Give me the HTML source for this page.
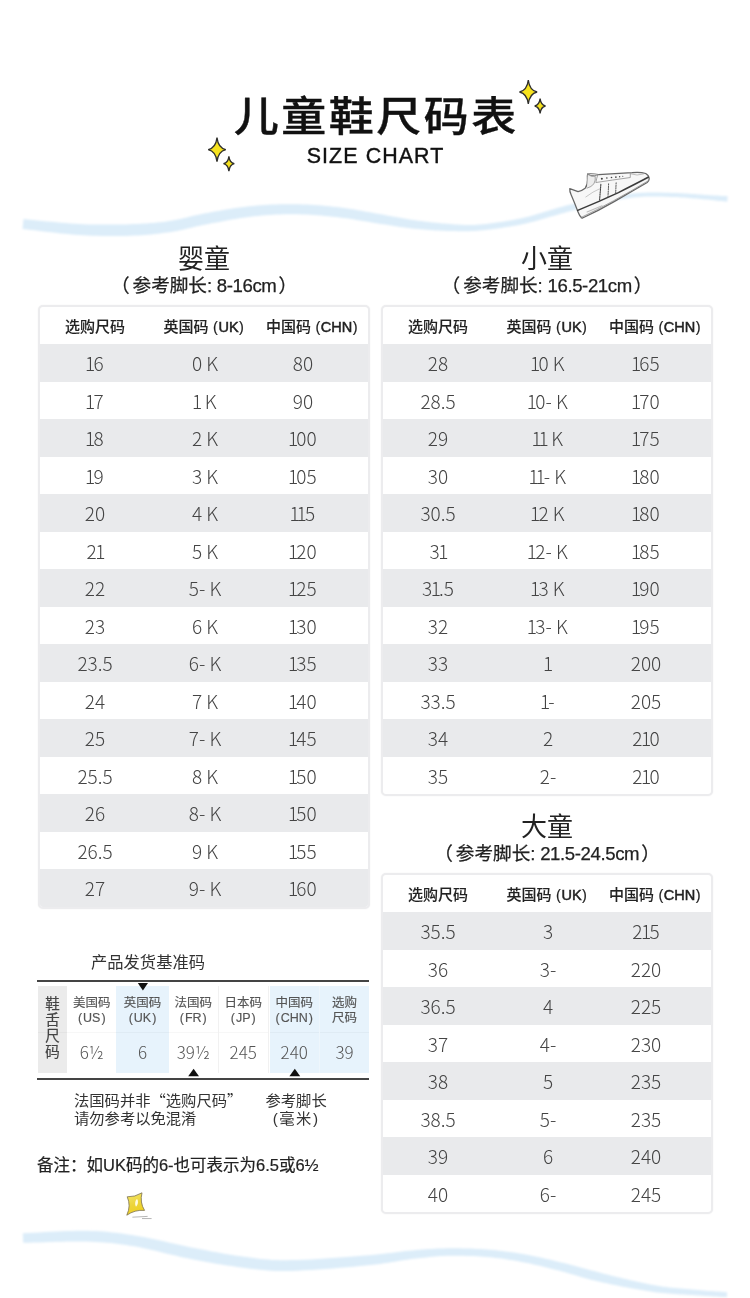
<!DOCTYPE html>
<html lang="zh-CN">
<head>
<meta charset="utf-8">
<title>儿童鞋尺码表</title>
<style>
*{margin:0;padding:0;box-sizing:border-box;}
html,body{width:750px;height:1298px;background:#fff;overflow:hidden;}
body{position:relative;font-family:"Liberation Sans","Noto Sans CJK SC",sans-serif;color:#333;}
.abs{position:absolute;}
.title{left:0;width:750px;top:84px;text-align:center;font-family:"Noto Sans CJK SC",sans-serif;font-weight:500;font-size:45px;line-height:60px;color:#111;-webkit-text-stroke:0.4px #111;letter-spacing:2.5px;text-indent:2.5px;transform:scaleY(0.9);transform-origin:50% 50%;}
.sub{left:0;width:750px;top:142.5px;text-align:center;font-family:"Liberation Sans",sans-serif;font-size:21.4px;line-height:26px;color:#111;letter-spacing:1.1px;text-indent:1.1px;-webkit-text-stroke:0.4px #111;}
.h2{text-align:center;font-family:"Noto Sans CJK SC",sans-serif;font-size:26px;line-height:30px;color:#222;}
.h3{text-align:center;font-family:"Liberation Sans","Noto Sans CJK SC",sans-serif;font-size:18.6px;line-height:24px;color:#222;margin-top:1px;-webkit-text-stroke:0.25px #222;}
.lp{margin-right:3px;}
.ln{letter-spacing:-0.4px;margin-right:2px;}
.tbl{width:331.5px;border:2px solid #ececee;border-radius:5px;overflow:hidden;background:#fff;box-shadow:0 0 1.5px rgba(0,0,0,0.07);}
.hd{height:37.5px;position:relative;font-family:"Noto Sans CJK SC",sans-serif;font-weight:500;font-size:15px;color:#222;-webkit-text-stroke:0.1px #222;}
.hd b{font-family:"Liberation Sans",sans-serif;font-weight:400;font-size:14.5px;margin-left:4px;-webkit-text-stroke:0.5px #222;}
.hd b i{font-style:normal;font-weight:400;margin:0 0.5px;-webkit-text-stroke:0.2px #222;}
.row{height:37.5px;position:relative;font-family:"Noto Sans CJK SC",sans-serif;font-weight:300;font-size:19px;color:#444;}
.row.g{background:#e9eaec;}
.row i.o{font-style:normal;margin:0 -1.8px 0 -1.4px;}
.c{position:absolute;top:0;height:100%;line-height:37.5px;text-align:center;white-space:nowrap;}
.c1{left:0px;width:110px;}
.c2{left:110px;width:110px;}
.c3{left:208px;width:110px;}
.hd .c1{left:0;width:110px;}
.hd .c2{left:109px;width:110px;}
.hd .c3{left:217px;width:110px;}
.dg{width:331px;height:87.5px;}
.dc{position:absolute;top:0;height:87.5px;width:50.5px;}
.dc.lab{left:0;width:29px;background:#ebebeb;font-family:"Noto Sans CJK SC",sans-serif;font-size:14.5px;line-height:16px;color:#444;text-align:center;padding-top:9px;-webkit-text-stroke:0.2px #444;}
.dc.w{background:#fff;border-right:1px solid #f1f1f1;}
.dc.b{background:#e7f3fc;}
.dc .t{position:absolute;left:0;width:100%;top:10px;text-align:center;font-family:"Liberation Sans","Noto Sans CJK SC",sans-serif;font-size:12.5px;line-height:15.5px;color:#555;white-space:nowrap;-webkit-text-stroke:0.15px #555;}
.dc .v{position:absolute;left:0;width:100%;top:56px;text-align:center;font-family:"Noto Sans CJK SC",sans-serif;font-weight:300;font-size:17px;line-height:20px;color:#555;white-space:nowrap;}
.dc::after{content:"";position:absolute;left:0;right:0;top:46px;height:1px;background:rgba(0,0,0,0.03);}
.p{margin:0 1px;}
.note{font-family:"Noto Sans CJK SC",sans-serif;font-size:15.3px;line-height:18px;color:#333;white-space:nowrap;}
</style>
</head>
<body>
<!-- waves -->
<svg class="abs" style="left:0;top:0" width="750" height="1298" viewBox="0 0 750 1298">
  <defs><filter id="bl" x="-5%" y="-50%" width="110%" height="200%"><feGaussianBlur stdDeviation="0.9"/></filter></defs>
  <g fill="#dcedf9" filter="url(#bl)">
  <path d="M22.5,229.0 L27.2,229.5 L31.8,230.0 L36.6,230.6 L41.3,231.2 L46.0,231.7 L50.7,232.3 L55.5,232.8 L60.2,233.4 L64.9,233.8 L69.5,234.3 L74.1,234.7 L78.7,235.0 L83.2,235.3 L87.7,235.5 L92.2,235.7 L96.7,235.8 L101.1,235.9 L105.5,236.0 L109.8,236.0 L114.0,236.0 L118.2,236.0 L122.3,235.9 L126.3,235.9 L130.2,235.7 L134.0,235.6 L137.7,235.4 L141.2,235.2 L144.7,235.0 L148.1,234.7 L151.5,234.4 L154.8,234.0 L158.1,233.7 L161.3,233.3 L164.5,232.8 L167.6,232.4 L170.8,231.9 L174.0,231.4 L177.0,230.9 L180.0,230.3 L182.9,229.7 L185.7,229.0 L188.5,228.3 L191.3,227.7 L194.1,227.0 L196.9,226.3 L199.8,225.7 L202.9,225.0 L206.0,224.4 L209.4,223.8 L212.9,223.1 L216.6,222.4 L220.3,221.7 L224.0,220.9 L227.8,220.2 L231.6,219.5 L235.5,218.9 L239.3,218.3 L243.1,217.7 L246.9,217.2 L250.6,216.7 L254.3,216.3 L258.0,215.9 L261.7,215.6 L265.4,215.3 L269.1,215.0 L272.8,214.8 L276.5,214.6 L280.2,214.4 L283.9,214.3 L287.6,214.2 L291.2,214.2 L294.9,214.2 L298.6,214.3 L302.4,214.4 L306.1,214.5 L309.9,214.7 L313.7,215.0 L317.4,215.3 L321.2,215.6 L324.9,215.9 L328.6,216.3 L332.3,216.7 L335.9,217.1 L339.4,217.5 L342.9,217.9 L346.3,218.3 L349.7,218.8 L353.1,219.3 L356.4,219.9 L359.8,220.4 L363.1,221.0 L366.4,221.6 L369.6,222.1 L372.9,222.7 L376.1,223.2 L379.2,223.7 L382.3,224.2 L385.4,224.6 L388.3,225.1 L391.3,225.5 L394.2,226.0 L397.1,226.4 L400.0,226.9 L402.8,227.3 L405.7,227.7 L408.6,228.0 L411.5,228.4 L414.5,228.7 L417.5,229.0 L420.4,229.3 L423.4,229.5 L426.5,229.8 L429.5,230.0 L432.5,230.2 L435.5,230.4 L438.4,230.5 L441.4,230.7 L444.2,230.8 L447.1,230.9 L449.8,231.0 L452.5,231.1 L455.0,231.1 L457.4,231.2 L459.8,231.3 L462.1,231.3 L464.5,231.3 L466.8,231.3 L469.3,231.2 L471.8,231.1 L474.5,231.0 L477.3,230.8 L480.3,230.5 L483.4,230.2 L486.8,229.8 L490.3,229.4 L493.9,228.9 L497.6,228.4 L501.3,227.9 L505.1,227.3 L508.9,226.7 L512.7,226.0 L516.4,225.4 L520.1,224.7 L523.6,223.9 L527.1,223.2 L530.6,222.3 L534.1,221.4 L537.5,220.5 L540.9,219.6 L544.3,218.6 L547.6,217.6 L550.9,216.6 L554.2,215.7 L557.5,214.7 L560.7,213.8 L563.9,212.9 L567.0,212.1 L570.2,211.2 L573.3,210.3 L576.3,209.5 L579.3,208.6 L582.3,207.8 L585.3,206.9 L588.3,206.1 L591.3,205.3 L594.4,204.6 L597.4,203.9 L600.5,203.2 L603.7,202.5 L606.9,201.9 L610.1,201.3 L613.4,200.6 L616.7,200.0 L620.0,199.5 L623.2,199.0 L626.5,198.5 L629.7,198.0 L632.9,197.6 L636.1,197.3 L639.1,197.0 L642.2,196.8 L645.2,196.6 L648.2,196.5 L651.2,196.5 L654.2,196.4 L657.1,196.5 L660.0,196.5 L662.9,196.6 L665.7,196.7 L668.5,196.8 L671.2,196.9 L673.9,197.0 L676.6,197.1 L679.1,197.2 L681.7,197.4 L684.1,197.6 L686.6,197.8 L689.0,198.0 L691.4,198.2 L693.7,198.4 L696.0,198.6 L698.3,198.8 L700.6,199.0 L702.8,199.2 L705.0,199.4 L707.2,199.6 L709.3,199.8 L711.3,200.1 L713.3,200.3 L715.3,200.5 L717.3,200.7 L719.3,200.9 L721.3,201.1 L723.2,201.3 L725.2,201.5 L727.3,201.7 L727.7,196.3 L725.7,196.1 L723.7,196.0 L721.7,195.9 L719.7,195.8 L717.7,195.6 L715.7,195.5 L713.7,195.4 L711.7,195.3 L709.6,195.2 L707.5,195.0 L705.4,194.9 L703.2,194.8 L700.9,194.6 L698.7,194.5 L696.4,194.3 L694.1,194.1 L691.7,194.0 L689.3,193.8 L686.9,193.6 L684.4,193.5 L681.9,193.3 L679.3,193.2 L676.7,193.1 L674.1,193.0 L671.4,192.9 L668.6,192.8 L665.8,192.8 L663.0,192.7 L660.1,192.6 L657.1,192.6 L654.2,192.6 L651.2,192.6 L648.1,192.6 L645.1,192.7 L642.0,192.8 L638.9,193.0 L635.7,193.2 L632.5,193.5 L629.2,193.8 L626.0,194.1 L622.6,194.5 L619.3,194.8 L615.9,195.3 L612.6,195.7 L609.3,196.2 L606.0,196.7 L602.7,197.2 L599.5,197.8 L596.3,198.4 L593.1,199.0 L590.0,199.7 L586.9,200.4 L583.8,201.1 L580.8,201.8 L577.7,202.6 L574.7,203.4 L571.6,204.2 L568.5,205.0 L565.3,205.8 L562.1,206.7 L558.9,207.5 L555.6,208.5 L552.4,209.5 L549.1,210.5 L545.8,211.5 L542.5,212.6 L539.2,213.6 L535.8,214.6 L532.5,215.5 L529.1,216.4 L525.8,217.3 L522.4,218.1 L518.9,218.8 L515.3,219.5 L511.6,220.2 L507.9,220.8 L504.2,221.5 L500.4,222.0 L496.7,222.6 L493.1,223.1 L489.5,223.5 L486.1,223.9 L482.8,224.2 L479.7,224.5 L476.8,224.7 L474.1,224.9 L471.6,224.9 L469.2,225.0 L466.8,225.0 L464.5,224.9 L462.3,224.8 L460.0,224.7 L457.7,224.5 L455.3,224.4 L452.8,224.2 L450.2,224.0 L447.4,223.8 L444.7,223.6 L441.8,223.4 L439.0,223.1 L436.1,222.8 L433.1,222.5 L430.2,222.2 L427.2,221.8 L424.3,221.4 L421.3,221.1 L418.4,220.7 L415.5,220.3 L412.7,219.9 L409.8,219.4 L407.0,219.0 L404.2,218.5 L401.4,218.0 L398.6,217.5 L395.7,217.0 L392.8,216.5 L389.9,215.9 L386.9,215.4 L383.9,214.8 L380.8,214.3 L377.7,213.8 L374.5,213.2 L371.3,212.6 L368.1,212.0 L364.8,211.4 L361.5,210.8 L358.1,210.2 L354.7,209.6 L351.2,209.0 L347.7,208.5 L344.2,208.0 L340.6,207.5 L337.0,207.1 L333.3,206.7 L329.6,206.3 L325.8,206.0 L322.0,205.6 L318.2,205.3 L314.4,205.0 L310.5,204.8 L306.6,204.6 L302.7,204.4 L298.9,204.3 L295.1,204.2 L291.3,204.2 L287.4,204.2 L283.6,204.2 L279.8,204.3 L276.0,204.4 L272.2,204.6 L268.4,204.8 L264.6,205.0 L260.8,205.3 L257.0,205.6 L253.2,205.9 L249.4,206.3 L245.6,206.7 L241.7,207.2 L237.7,207.8 L233.8,208.3 L229.8,209.0 L225.9,209.6 L222.1,210.3 L218.3,211.0 L214.5,211.6 L210.9,212.3 L207.4,213.0 L204.0,213.6 L200.6,214.2 L197.5,214.9 L194.4,215.6 L191.5,216.3 L188.7,217.0 L185.9,217.7 L183.2,218.3 L180.5,218.9 L177.7,219.5 L175.0,220.1 L172.1,220.6 L169.2,221.1 L166.1,221.5 L163.0,221.9 L160.0,222.2 L156.8,222.6 L153.7,222.9 L150.5,223.1 L147.3,223.4 L143.9,223.6 L140.5,223.8 L137.1,224.0 L133.5,224.1 L129.8,224.3 L126.0,224.4 L122.1,224.5 L118.1,224.5 L114.0,224.6 L109.8,224.6 L105.5,224.6 L101.2,224.6 L96.9,224.6 L92.5,224.5 L88.1,224.4 L83.7,224.2 L79.3,224.0 L74.9,223.8 L70.4,223.5 L65.8,223.1 L61.2,222.7 L56.6,222.3 L51.9,221.8 L47.2,221.4 L42.4,220.9 L37.7,220.4 L32.9,219.9 L28.2,219.5 L23.5,219.0 Z"/>
  <path d="M23.2,1242.8 L28.6,1242.7 L34.0,1242.5 L39.6,1242.4 L45.1,1242.2 L50.7,1242.0 L56.2,1241.8 L61.6,1241.7 L67.0,1241.6 L72.2,1241.5 L77.3,1241.5 L82.2,1241.5 L86.9,1241.6 L91.3,1241.8 L95.6,1242.0 L99.6,1242.2 L103.5,1242.5 L107.3,1242.8 L111.0,1243.1 L114.7,1243.5 L118.4,1244.0 L122.1,1244.5 L126.0,1245.0 L130.0,1245.7 L134.1,1246.3 L138.4,1247.1 L142.8,1248.0 L147.3,1248.9 L151.9,1250.0 L156.5,1251.1 L161.2,1252.2 L165.9,1253.4 L170.6,1254.5 L175.3,1255.6 L179.9,1256.7 L184.4,1257.7 L188.9,1258.6 L193.1,1259.5 L197.3,1260.3 L201.4,1261.1 L205.5,1261.8 L209.5,1262.6 L213.4,1263.3 L217.4,1263.9 L221.3,1264.6 L225.3,1265.2 L229.3,1265.8 L233.3,1266.3 L237.3,1266.9 L241.2,1267.4 L244.9,1267.9 L248.5,1268.4 L252.1,1268.9 L255.8,1269.3 L259.5,1269.8 L263.3,1270.1 L267.3,1270.5 L271.5,1270.7 L276.0,1270.9 L280.8,1271.0 L286.0,1271.0 L291.7,1270.9 L297.9,1270.7 L304.6,1270.3 L311.5,1269.9 L318.6,1269.5 L325.9,1269.0 L333.1,1268.4 L340.2,1267.8 L347.1,1267.3 L353.7,1266.7 L359.8,1266.1 L365.4,1265.6 L370.6,1265.0 L375.5,1264.5 L380.0,1263.9 L384.3,1263.3 L388.4,1262.7 L392.3,1262.0 L396.0,1261.4 L399.6,1260.8 L403.1,1260.3 L406.6,1259.7 L410.0,1259.3 L413.4,1258.8 L416.9,1258.4 L420.2,1258.0 L423.3,1257.7 L426.4,1257.4 L429.4,1257.1 L432.3,1256.8 L435.2,1256.5 L438.1,1256.3 L441.0,1256.1 L443.9,1256.0 L446.9,1255.8 L450.1,1255.7 L453.3,1255.7 L456.5,1255.7 L459.9,1255.7 L463.2,1255.8 L466.6,1255.9 L470.0,1256.0 L473.4,1256.1 L476.7,1256.3 L480.1,1256.5 L483.3,1256.7 L486.5,1257.0 L489.7,1257.2 L492.7,1257.5 L495.7,1257.9 L498.7,1258.2 L501.6,1258.6 L504.4,1259.0 L507.3,1259.4 L510.1,1259.9 L512.9,1260.3 L515.7,1260.8 L518.5,1261.3 L521.4,1261.9 L524.3,1262.4 L527.1,1263.0 L530.0,1263.6 L532.9,1264.2 L535.9,1264.9 L538.8,1265.6 L541.7,1266.3 L544.6,1267.0 L547.5,1267.7 L550.4,1268.4 L553.3,1269.2 L556.1,1269.9 L559.0,1270.6 L561.8,1271.4 L564.5,1272.1 L567.3,1272.9 L570.0,1273.7 L572.8,1274.5 L575.5,1275.3 L578.2,1276.1 L580.9,1276.9 L583.7,1277.7 L586.4,1278.4 L589.1,1279.2 L591.9,1279.9 L594.6,1280.5 L597.3,1281.2 L599.9,1281.8 L602.6,1282.4 L605.2,1283.0 L607.9,1283.6 L610.5,1284.2 L613.2,1284.7 L615.9,1285.3 L618.6,1285.8 L621.4,1286.4 L624.2,1286.9 L627.0,1287.4 L629.9,1288.0 L632.8,1288.5 L635.7,1289.1 L638.7,1289.6 L641.6,1290.1 L644.6,1290.6 L647.6,1291.1 L650.6,1291.5 L653.6,1292.0 L656.6,1292.4 L659.6,1292.7 L662.5,1293.1 L665.5,1293.3 L668.5,1293.6 L671.5,1293.8 L674.5,1294.0 L677.5,1294.2 L680.4,1294.4 L683.4,1294.6 L686.3,1294.7 L689.1,1294.9 L692.0,1295.1 L694.8,1295.2 L697.6,1295.4 L700.3,1295.6 L703.0,1295.8 L705.7,1295.9 L708.4,1296.1 L711.0,1296.3 L713.6,1296.4 L716.3,1296.6 L718.9,1296.7 L721.5,1296.9 L724.2,1297.0 L726.8,1297.2 L727.2,1292.2 L724.5,1292.0 L721.9,1291.8 L719.2,1291.6 L716.6,1291.4 L714.0,1291.2 L711.4,1291.0 L708.7,1290.9 L706.1,1290.7 L703.4,1290.4 L700.7,1290.2 L698.0,1290.0 L695.2,1289.8 L692.4,1289.5 L689.5,1289.3 L686.7,1289.0 L683.8,1288.8 L680.8,1288.6 L677.9,1288.3 L675.0,1288.0 L672.0,1287.7 L669.1,1287.4 L666.2,1287.1 L663.3,1286.7 L660.4,1286.3 L657.6,1285.8 L654.7,1285.3 L651.8,1284.8 L648.8,1284.2 L645.9,1283.6 L643.0,1283.0 L640.1,1282.3 L637.2,1281.7 L634.3,1281.0 L631.5,1280.4 L628.6,1279.7 L625.8,1279.1 L623.1,1278.5 L620.4,1277.8 L617.7,1277.2 L615.1,1276.5 L612.5,1275.9 L609.9,1275.2 L607.3,1274.5 L604.7,1273.9 L602.1,1273.2 L599.4,1272.5 L596.8,1271.8 L594.1,1271.1 L591.4,1270.4 L588.8,1269.7 L586.1,1269.0 L583.4,1268.3 L580.6,1267.5 L577.9,1266.8 L575.1,1266.0 L572.4,1265.3 L569.6,1264.5 L566.7,1263.8 L563.9,1263.1 L561.0,1262.4 L558.2,1261.7 L555.3,1261.0 L552.4,1260.3 L549.5,1259.6 L546.5,1258.9 L543.6,1258.2 L540.6,1257.6 L537.6,1256.9 L534.6,1256.3 L531.7,1255.7 L528.7,1255.1 L525.7,1254.6 L522.8,1254.1 L519.9,1253.6 L517.0,1253.1 L514.1,1252.6 L511.3,1252.2 L508.4,1251.8 L505.5,1251.4 L502.5,1251.0 L499.5,1250.7 L496.5,1250.3 L493.5,1250.0 L490.3,1249.8 L487.1,1249.5 L483.8,1249.3 L480.5,1249.1 L477.1,1248.9 L473.7,1248.7 L470.3,1248.6 L466.8,1248.5 L463.4,1248.4 L460.0,1248.3 L456.6,1248.3 L453.2,1248.2 L449.9,1248.3 L446.8,1248.3 L443.6,1248.4 L440.6,1248.5 L437.6,1248.6 L434.7,1248.7 L431.7,1248.9 L428.7,1249.1 L425.7,1249.3 L422.6,1249.5 L419.4,1249.8 L416.0,1250.1 L412.6,1250.4 L409.0,1250.7 L405.4,1251.1 L401.9,1251.5 L398.3,1251.9 L394.7,1252.4 L391.0,1252.9 L387.1,1253.3 L383.1,1253.8 L378.9,1254.3 L374.4,1254.8 L369.6,1255.2 L364.6,1255.6 L359.0,1256.1 L352.8,1256.5 L346.3,1257.0 L339.4,1257.5 L332.3,1258.0 L325.1,1258.5 L318.0,1259.0 L310.9,1259.4 L304.0,1259.7 L297.5,1260.0 L291.5,1260.1 L286.0,1260.2 L281.0,1260.2 L276.4,1260.1 L272.1,1259.9 L268.1,1259.6 L264.3,1259.3 L260.7,1258.9 L257.1,1258.5 L253.6,1258.0 L250.0,1257.5 L246.4,1257.0 L242.6,1256.5 L238.7,1255.9 L234.8,1255.4 L230.9,1254.8 L227.0,1254.2 L223.2,1253.5 L219.3,1252.8 L215.4,1252.1 L211.5,1251.4 L207.6,1250.6 L203.6,1249.8 L199.5,1249.0 L195.4,1248.2 L191.1,1247.4 L186.8,1246.5 L182.4,1245.5 L177.9,1244.5 L173.2,1243.5 L168.5,1242.4 L163.8,1241.3 L159.0,1240.3 L154.3,1239.2 L149.6,1238.2 L144.9,1237.3 L140.3,1236.4 L135.9,1235.7 L131.6,1235.0 L127.6,1234.4 L123.6,1233.8 L119.8,1233.3 L115.9,1232.8 L112.1,1232.4 L108.3,1232.0 L104.3,1231.6 L100.3,1231.3 L96.1,1231.1 L91.7,1230.9 L87.1,1230.8 L82.3,1230.7 L77.2,1230.8 L72.0,1230.9 L66.7,1231.1 L61.3,1231.3 L55.8,1231.6 L50.3,1231.8 L44.7,1232.1 L39.2,1232.4 L33.7,1232.7 L28.2,1233.0 L22.8,1233.2 Z"/>
  </g>
</svg>

<!-- stars, shoe, sticker -->
<svg class="abs" style="left:0;top:0" width="750" height="1298" viewBox="0 0 750 1298">
  <g fill="#f6e21e" stroke="#2e2e2e" stroke-width="1.3" stroke-linejoin="miter">
    <path d="M217,137.7 Q218.2,148.0 225.8,149.7 Q218.2,151.4 217,161.7 Q215.8,151.4 208.2,149.7 Q215.8,148.0 217,137.7 Z"/>
    <path d="M228.9,156.3 Q229.7,162.7 234.3,163.7 Q229.7,164.7 228.9,171.1 Q228.1,164.7 223.5,163.7 Q228.1,162.7 228.9,156.3 Z"/>
    <path d="M528.3,80.0 Q529.5,90.3 537.1,92 Q529.5,93.7 528.3,104.0 Q527.1,93.7 519.5,92 Q527.1,90.3 528.3,80.0 Z"/>
    <path d="M540.1,98.6 Q540.9,105.0 545.5,106 Q540.9,107.0 540.1,113.4 Q539.3,107.0 534.7,106 Q539.3,105.0 540.1,98.6 Z"/>
  </g>
  <!-- shoe -->
  <g transform="translate(562,165) scale(0.1253)" fill="none" stroke="#5a5a5a" stroke-width="9" stroke-linejoin="round" stroke-linecap="round">
    <path d="M62,188 Q95,200 128,212 Q160,205 185,185 Q205,160 203,120 Q200,90 205,72 Q250,70 292,76 Q420,66 560,60 Q630,54 668,68 Q696,85 696,110 Q693,130 680,140 Q560,210 420,290 Q290,365 160,425 Q140,410 128,375 Q100,300 72,235 Q60,210 62,188 Z" fill="#f7f7f7" stroke="#666" stroke-width="10"/>
    <path d="M125,362 Q300,290 450,220 Q590,150 688,98" stroke="#3a3a3a" stroke-width="12"/>
    <path d="M150,420 Q400,300 690,125" stroke="#888" stroke-width="6"/>
    <path d="M205,72 Q230,90 260,85 Q285,80 292,76" stroke="#777" stroke-width="7" fill="#e9e9e9"/>
    <path d="M205,75 Q240,100 265,90 Q270,120 255,150 Q235,175 200,185" stroke="#888" stroke-width="6" fill="#ececec"/>
    <path d="M285,80 Q275,110 270,140 Q400,120 545,100 L545,70" stroke="#888" stroke-width="6"/>
    <path d="M545,70 Q600,90 650,72" stroke="#999" stroke-width="5"/>
    <path d="M310,155 L300,280" stroke="#444" stroke-width="9" stroke-dasharray="10 9"/>
    <path d="M372,150 L367,255" stroke="#555" stroke-width="8" stroke-dasharray="10 9"/>
    <path d="M432,142 L428,235" stroke="#555" stroke-width="8" stroke-dasharray="10 9"/>
    <path d="M190,255 Q250,210 300,190" stroke="#aaa" stroke-width="5"/>
    <path d="M200,375 Q260,350 320,325" stroke="#bbb" stroke-width="8"/>
    <g fill="#444" stroke="none">
      <circle cx="318" cy="110" r="8"/><circle cx="358" cy="104" r="6.5"/><circle cx="395" cy="100" r="6.5"/><circle cx="430" cy="97" r="6.5"/><circle cx="460" cy="94" r="5.5"/><circle cx="485" cy="90" r="4.5"/>
    </g>
  </g>
  <!-- sticker -->
  <g transform="translate(110,1180) scale(0.08)">
    <defs><linearGradient id="sg" x1="0" y1="0" x2="0.3" y2="1"><stop offset="0" stop-color="#f4e66a"/><stop offset="0.6" stop-color="#ecd43a"/><stop offset="1" stop-color="#f0d020"/></linearGradient></defs>
    <path d="M215,210 Q310,215 400,160 Q370,280 432,380 Q310,370 210,440 Q265,320 215,210 Z" fill="url(#sg)" stroke="#7a7050" stroke-width="10" stroke-linejoin="round"/>
    <path d="M330,240 Q300,290 325,335 Q360,300 345,245 Z" fill="#fffbe0"/>
    <path d="M280,465 L470,455 M400,482 L520,482" stroke="#999" stroke-width="9"/>
  </g>
</svg>

<div class="abs title">儿童鞋尺码表</div>
<div class="abs sub">SIZE CHART</div>

<div class="abs h2" style="left:38px;width:332px;top:242px;">婴童</div>
<div class="abs h3" style="left:38px;width:332px;top:273px;"><span class="lp">（</span>参考脚长:<span class="ln"> 8-16cm</span>）</div>
<div class="abs h2" style="left:381px;width:332px;top:242px;">小童</div>
<div class="abs h3" style="left:381px;width:332px;top:273px;"><span class="lp">（</span>参考脚长:<span class="ln"> 16.5-21cm</span>）</div>
<div class="abs h2" style="left:381px;width:332px;top:810px;">大童</div>
<div class="abs h3" style="left:381px;width:332px;top:841px;"><span class="lp">（</span>参考脚长:<span class="ln"> 21.5-24.5cm</span>）</div>

<!-- DIAGRAM -->
<div class="abs" style="left:91px;top:950px;font-family:'Noto Sans CJK SC',sans-serif;font-size:16.3px;line-height:22px;color:#333;white-space:nowrap;">产品发货基准码</div>
<div class="abs" style="left:37px;top:980px;width:332px;height:2px;background:#444;"></div>
<div class="abs" style="left:37px;top:1078px;width:332px;height:2px;background:#444;"></div>
<div class="abs dg" style="left:38px;top:985.5px;">
  <div class="dc lab">鞋<br>舌<br>尺<br>码</div>
  <div class="dc w" style="left:29px;"><div class="t">美国码<br><span class="p">(</span>US<span class="p">)</span></div><div class="v">6½</div></div>
  <div class="dc b" style="left:78.3px;width:52.4px;"><div class="t">英国码<br><span class="p">(</span>UK<span class="p">)</span></div><div class="v">6</div></div>
  <div class="dc w" style="left:130.5px;"><div class="t">法国码<br><span class="p">(</span>FR<span class="p">)</span></div><div class="v">39½</div></div>
  <div class="dc w" style="left:180.5px;"><div class="t">日本码<br><span class="p">(</span>JP<span class="p">)</span></div><div class="v">245</div></div>
  <div class="dc b" style="left:231.6px;width:50.2px;border-right:1px solid #eef6fc;"><div class="t">中国码<br><span class="p">(</span>CHN<span class="p">)</span></div><div class="v">240</div></div>
  <div class="dc b" style="left:282px;width:49px;"><div class="t">选购<br>尺码</div><div class="v">39</div></div>
</div>
<svg class="abs" style="left:0;top:0;" width="750" height="1100" viewBox="0 0 750 1100">
  <path d="M137.8,983 L148,983 L142.9,990.5 Z" fill="#111"/>
  <path d="M188.2,1076.3 L199,1076.3 L193.6,1068.8 Z" fill="#111"/>
  <path d="M289.4,1076.3 L300.2,1076.3 L294.8,1068.8 Z" fill="#111"/>
</svg>
<div class="abs note" style="left:74px;top:1090.2px;">法国码并非“选购尺码”<br>请勿参考以免混淆</div>
<div class="abs note" style="left:265.5px;top:1090.2px;text-align:center;">参考脚长<br><span style="font-family:'Liberation Sans','Noto Sans CJK SC',sans-serif;letter-spacing:1.5px;">(毫米)</span></div>
<div class="abs" style="left:37px;top:1153.5px;font-family:'Liberation Sans','Noto Sans CJK SC',sans-serif;font-size:16.5px;line-height:22px;color:#222;white-space:nowrap;-webkit-text-stroke:0.2px #222;">备注：如UK码的6-也可表示为6.5或6½</div>
<!-- /DIAGRAM -->
<!-- TABLES -->
<div class="abs tbl" style="left:38px;top:304.5px;">
<div class="hd"><div class="c c1">选购尺码</div><div class="c c2">英国码<b><i>(</i>UK<i>)</i></b></div><div class="c c3">中国码<b><i>(</i>CHN<i>)</i></b></div></div>
<div class="row g"><div class="c c1"><i class="o">1</i>6</div><div class="c c2">0 K</div><div class="c c3">80</div></div>
<div class="row"><div class="c c1"><i class="o">1</i>7</div><div class="c c2"><i class="o">1</i> K</div><div class="c c3">90</div></div>
<div class="row g"><div class="c c1"><i class="o">1</i>8</div><div class="c c2">2 K</div><div class="c c3"><i class="o">1</i>00</div></div>
<div class="row"><div class="c c1"><i class="o">1</i>9</div><div class="c c2">3 K</div><div class="c c3"><i class="o">1</i>05</div></div>
<div class="row g"><div class="c c1">20</div><div class="c c2">4 K</div><div class="c c3"><i class="o">1</i><i class="o">1</i>5</div></div>
<div class="row"><div class="c c1">2<i class="o">1</i></div><div class="c c2">5 K</div><div class="c c3"><i class="o">1</i>20</div></div>
<div class="row g"><div class="c c1">22</div><div class="c c2">5- K</div><div class="c c3"><i class="o">1</i>25</div></div>
<div class="row"><div class="c c1">23</div><div class="c c2">6 K</div><div class="c c3"><i class="o">1</i>30</div></div>
<div class="row g"><div class="c c1">23.5</div><div class="c c2">6- K</div><div class="c c3"><i class="o">1</i>35</div></div>
<div class="row"><div class="c c1">24</div><div class="c c2">7 K</div><div class="c c3"><i class="o">1</i>40</div></div>
<div class="row g"><div class="c c1">25</div><div class="c c2">7- K</div><div class="c c3"><i class="o">1</i>45</div></div>
<div class="row"><div class="c c1">25.5</div><div class="c c2">8 K</div><div class="c c3"><i class="o">1</i>50</div></div>
<div class="row g"><div class="c c1">26</div><div class="c c2">8- K</div><div class="c c3"><i class="o">1</i>50</div></div>
<div class="row"><div class="c c1">26.5</div><div class="c c2">9 K</div><div class="c c3"><i class="o">1</i>55</div></div>
<div class="row g"><div class="c c1">27</div><div class="c c2">9- K</div><div class="c c3"><i class="o">1</i>60</div></div>
</div>
<div class="abs tbl" style="left:381px;top:304.5px;">
<div class="hd"><div class="c c1">选购尺码</div><div class="c c2">英国码<b><i>(</i>UK<i>)</i></b></div><div class="c c3">中国码<b><i>(</i>CHN<i>)</i></b></div></div>
<div class="row g"><div class="c c1">28</div><div class="c c2"><i class="o">1</i>0 K</div><div class="c c3"><i class="o">1</i>65</div></div>
<div class="row"><div class="c c1">28.5</div><div class="c c2"><i class="o">1</i>0- K</div><div class="c c3"><i class="o">1</i>70</div></div>
<div class="row g"><div class="c c1">29</div><div class="c c2"><i class="o">1</i><i class="o">1</i> K</div><div class="c c3"><i class="o">1</i>75</div></div>
<div class="row"><div class="c c1">30</div><div class="c c2"><i class="o">1</i><i class="o">1</i>- K</div><div class="c c3"><i class="o">1</i>80</div></div>
<div class="row g"><div class="c c1">30.5</div><div class="c c2"><i class="o">1</i>2 K</div><div class="c c3"><i class="o">1</i>80</div></div>
<div class="row"><div class="c c1">3<i class="o">1</i></div><div class="c c2"><i class="o">1</i>2- K</div><div class="c c3"><i class="o">1</i>85</div></div>
<div class="row g"><div class="c c1">3<i class="o">1</i>.5</div><div class="c c2"><i class="o">1</i>3 K</div><div class="c c3"><i class="o">1</i>90</div></div>
<div class="row"><div class="c c1">32</div><div class="c c2"><i class="o">1</i>3- K</div><div class="c c3"><i class="o">1</i>95</div></div>
<div class="row g"><div class="c c1">33</div><div class="c c2"><i class="o">1</i></div><div class="c c3">200</div></div>
<div class="row"><div class="c c1">33.5</div><div class="c c2"><i class="o">1</i>-</div><div class="c c3">205</div></div>
<div class="row g"><div class="c c1">34</div><div class="c c2">2</div><div class="c c3">2<i class="o">1</i>0</div></div>
<div class="row"><div class="c c1">35</div><div class="c c2">2-</div><div class="c c3">2<i class="o">1</i>0</div></div>
</div>
<div class="abs tbl" style="left:381px;top:872.5px;">
<div class="hd"><div class="c c1">选购尺码</div><div class="c c2">英国码<b><i>(</i>UK<i>)</i></b></div><div class="c c3">中国码<b><i>(</i>CHN<i>)</i></b></div></div>
<div class="row g"><div class="c c1">35.5</div><div class="c c2">3</div><div class="c c3">2<i class="o">1</i>5</div></div>
<div class="row"><div class="c c1">36</div><div class="c c2">3-</div><div class="c c3">220</div></div>
<div class="row g"><div class="c c1">36.5</div><div class="c c2">4</div><div class="c c3">225</div></div>
<div class="row"><div class="c c1">37</div><div class="c c2">4-</div><div class="c c3">230</div></div>
<div class="row g"><div class="c c1">38</div><div class="c c2">5</div><div class="c c3">235</div></div>
<div class="row"><div class="c c1">38.5</div><div class="c c2">5-</div><div class="c c3">235</div></div>
<div class="row g"><div class="c c1">39</div><div class="c c2">6</div><div class="c c3">240</div></div>
<div class="row"><div class="c c1">40</div><div class="c c2">6-</div><div class="c c3">245</div></div>
</div>
<!-- /TABLES --></body>
</html>
